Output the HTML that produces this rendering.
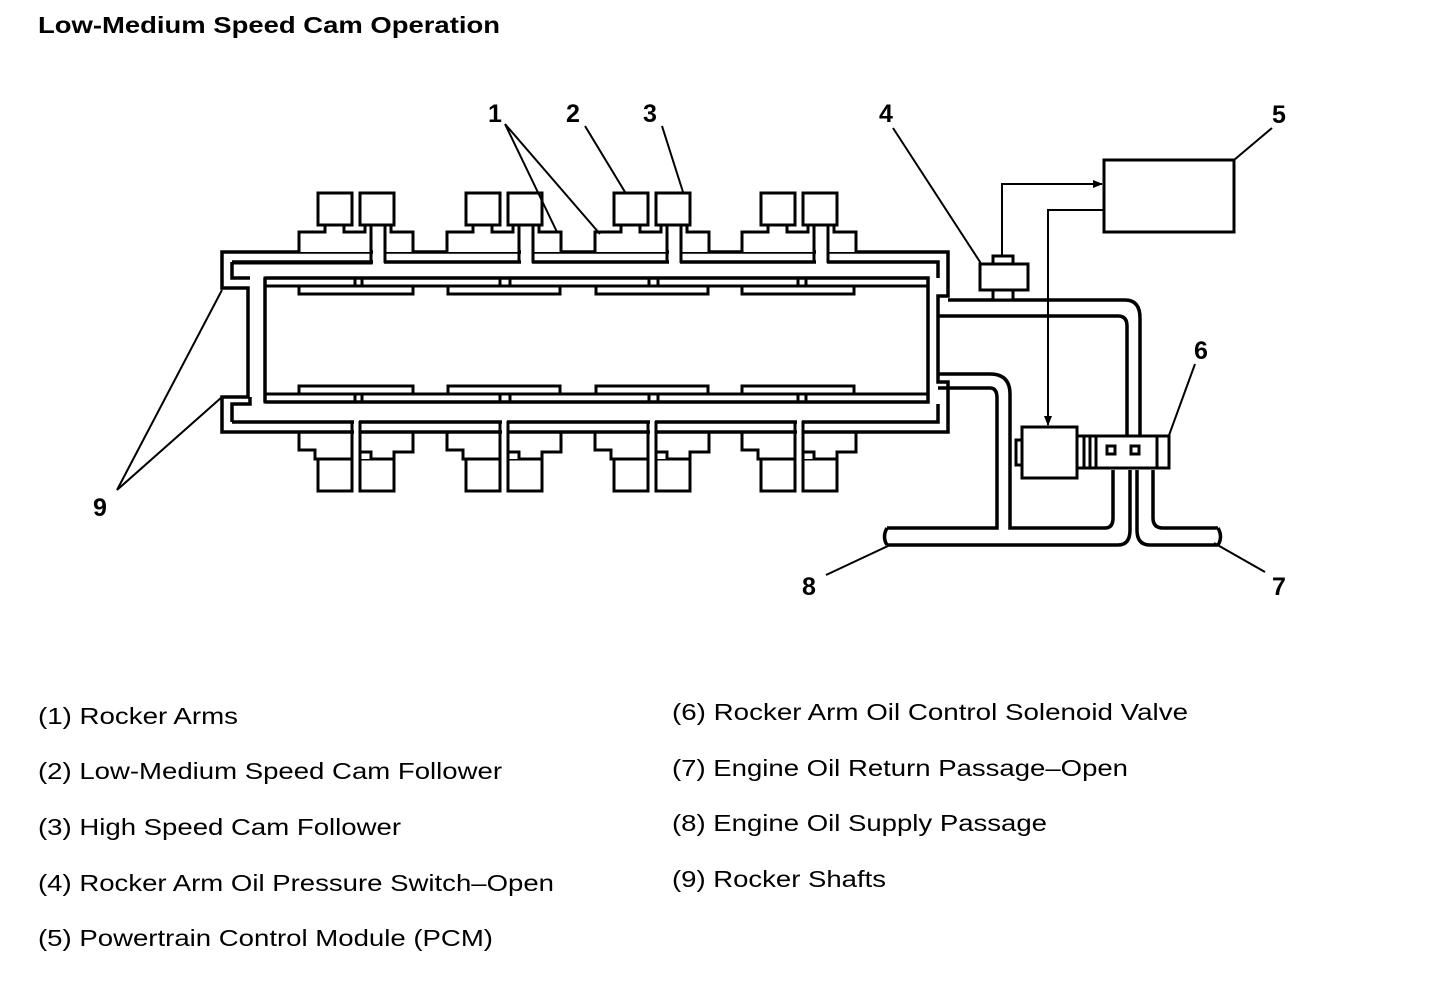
<!DOCTYPE html>
<html><head><meta charset="utf-8"><style>
html,body{margin:0;padding:0;background:#fff;}
svg{display:block;}
text{font-family:"Liberation Sans",Arial,sans-serif;fill:#000;}
</style></head><body>
<svg width="1440" height="988" viewBox="0 0 1440 988" xmlns="http://www.w3.org/2000/svg">
<defs>
<marker id="ah" markerWidth="10" markerHeight="10" refX="9" refY="5" orient="auto" markerUnits="userSpaceOnUse"><path d="M0,1 L10,5 L0,9 Z" fill="#000"/></marker>
<g id="topArm" fill="#fff" stroke="#000" stroke-width="3">
  <rect x="19" y="-59" width="34" height="32"/>
  <rect x="61" y="-59" width="34" height="32"/>
  <path d="M0,0 V-20 H26 V-27 H45 V-20 H66 V-27 H72 V0"/>
  <path d="M86,0 V-27 H92 V-20 H114 V0"/>
</g>
<g id="botArm" fill="#fff" stroke="#000" stroke-width="3">
  <rect x="19" y="27" width="34" height="32"/>
  <rect x="61" y="27" width="34" height="32"/>
  <path d="M0,0 V18 H16 V27 H19"/>
  <path d="M61,27 V20 H72 V27"/>
  <path d="M95,27 V20 H114 V0"/>
</g>
</defs>

<text x="38" y="33" font-size="23" font-weight="bold" textLength="462" lengthAdjust="spacingAndGlyphs">Low-Medium Speed Cam Operation</text>

<g fill="none" stroke="#000" stroke-width="3.5">
  <path d="M222,252 H948 V296 H938 V382 H948 V432 H222 V397 H248 V288 H222 Z"/>
  <path d="M232,262 H938 V278 M232,262 V278 H250 M265,278 V402 M232,422 V404 H250 V397 M232,422 H938 V404"/>
  <path d="M265,278 H928 V402 H265"/>
</g>
<g fill="none" stroke="#000" stroke-width="3">
  <rect x="265" y="278" width="90" height="8"/>
  <rect x="362" y="278" width="138" height="8"/>
  <rect x="510" y="278" width="139" height="8"/>
  <rect x="658" y="278" width="140" height="8"/>
  <rect x="806" y="278" width="122" height="8"/>
  <rect x="299" y="286" width="114" height="8"/>
  <rect x="448" y="286" width="112" height="8"/>
  <rect x="596" y="286" width="112" height="8"/>
  <rect x="742" y="286" width="112" height="8"/>
  <rect x="265" y="394" width="90" height="8"/>
  <rect x="362" y="394" width="138" height="8"/>
  <rect x="510" y="394" width="139" height="8"/>
  <rect x="658" y="394" width="140" height="8"/>
  <rect x="806" y="394" width="122" height="8"/>
  <rect x="299" y="386" width="114" height="8"/>
  <rect x="448" y="386" width="112" height="8"/>
  <rect x="596" y="386" width="112" height="8"/>
  <rect x="742" y="386" width="112" height="8"/>
</g>
<!-- openings in the bands -->
<g fill="#fff">
  <rect x="373" y="248" width="11" height="17"/>
  <rect x="521" y="248" width="11" height="17"/>
  <rect x="669" y="248" width="11" height="17"/>
  <rect x="816" y="248" width="11" height="17"/>
  <rect x="354" y="419" width="5" height="16"/>
  <rect x="502" y="419" width="5" height="16"/>
  <rect x="650" y="419" width="5" height="16"/>
  <rect x="797" y="419" width="5" height="16"/>
</g>
<use href="#topArm" x="299" y="252"/>
<use href="#topArm" x="447" y="252"/>
<use href="#topArm" x="595" y="252"/>
<use href="#topArm" x="742" y="252"/>
<use href="#botArm" x="299" y="432"/>
<use href="#botArm" x="447" y="432"/>
<use href="#botArm" x="595" y="432"/>
<use href="#botArm" x="742" y="432"/>
<g stroke="#000" stroke-width="3" fill="none">
  <path d="M371,252 V263 H232 M385,252 V263 M519,252 V263 M533,252 V263 M667,252 V263 M681,252 V263 M814,252 V263 M828,252 V263"/>
  <path d="M352,421 V459 M360,421 V459 M500,421 V459 M508,421 V459 M648,421 V459 M656,421 V459 M795,421 V459 M803,421 V459"/>
</g>

<!-- right side pipes -->
<g fill="none" stroke="#000" stroke-width="3.5">
  <path d="M948,300 H1125 Q1140,300 1140,318 V438"/>
  <path d="M938,316 H1118 Q1127,316 1127,326 V438"/>
  <path d="M938,374 H990 Q1010,374 1010,394 V528 H1105 Q1113,528 1113,518 V470"/>
  <path d="M938,388 H990 Q997,388 997,398 V528 H887"/>
  <path d="M887,545 H1118 Q1130,545 1130,530 V470"/>
  <path d="M1137,470 V530 Q1137,545 1150,545 H1218"/>
  <path d="M1153,470 V518 Q1153,528 1163,528 H1218"/>
  <path d="M887,528 Q882,537 887,545 M1218,528 Q1223,537 1218,545"/>
</g>
<g fill="#fff" stroke="#000" stroke-width="3">
  <rect x="993" y="256" width="20" height="8"/>
  <rect x="980" y="264" width="48" height="26"/>
  <rect x="993" y="290" width="20" height="10"/>
</g>
<rect x="1104" y="160" width="130" height="72" fill="#fff" stroke="#000" stroke-width="3"/>
<g fill="none" stroke="#000" stroke-width="2">
  <path d="M1002,256 V184 H1102" marker-end="url(#ah)"/>
  <path d="M1104,210 H1048 V425" marker-end="url(#ah)"/>
</g>
<g fill="#fff" stroke="#000" stroke-width="3">
  <rect x="1016" y="440" width="6" height="25"/>
  <rect x="1022" y="427" width="55" height="51"/>
  <rect x="1077" y="436" width="82" height="32"/>
  <rect x="1157" y="436" width="12" height="32"/>
  <path d="M1084,436 V468 M1090,436 V468 M1096,436 V468" />
  <rect x="1107" y="446" width="8" height="8"/>
  <rect x="1131" y="446" width="8" height="8"/>
</g>

<g stroke="#000" stroke-width="2" fill="none">
  <path d="M505,124 L557,232 M505,124 L600,234"/>
  <path d="M585,126 L625,192"/>
  <path d="M662,126 L683,192"/>
  <path d="M893,128 L982,265"/>
  <path d="M1272,128 L1234,160"/>
  <path d="M1195,364 L1168,438"/>
  <path d="M1265,572 L1214,543"/>
  <path d="M826,575 L890,545"/>
  <path d="M117,490 L222,290 M117,490 L222,397"/>
</g>
<g font-size="25" font-weight="bold">
  <text x="488" y="122">1</text>
  <text x="566" y="122">2</text>
  <text x="643" y="122">3</text>
  <text x="879" y="122">4</text>
  <text x="1272" y="123">5</text>
  <text x="1194" y="359">6</text>
  <text x="1272" y="595">7</text>
  <text x="802" y="595">8</text>
  <text x="93" y="516">9</text>
</g>

<g font-size="23">
  <text x="38" y="724" textLength="200" lengthAdjust="spacingAndGlyphs">(1) Rocker Arms</text>
  <text x="38" y="779" textLength="464" lengthAdjust="spacingAndGlyphs">(2) Low-Medium Speed Cam Follower</text>
  <text x="38" y="835" textLength="363" lengthAdjust="spacingAndGlyphs">(3) High Speed Cam Follower</text>
  <text x="38" y="891" textLength="516" lengthAdjust="spacingAndGlyphs">(4) Rocker Arm Oil Pressure Switch–Open</text>
  <text x="38" y="946" textLength="455" lengthAdjust="spacingAndGlyphs">(5) Powertrain Control Module (PCM)</text>
  <text x="672" y="720" textLength="516" lengthAdjust="spacingAndGlyphs">(6) Rocker Arm Oil Control Solenoid Valve</text>
  <text x="672" y="776" textLength="456" lengthAdjust="spacingAndGlyphs">(7) Engine Oil Return Passage–Open</text>
  <text x="672" y="831" textLength="375" lengthAdjust="spacingAndGlyphs">(8) Engine Oil Supply Passage</text>
  <text x="672" y="887" textLength="214" lengthAdjust="spacingAndGlyphs">(9) Rocker Shafts</text>
</g>
</svg>
</body></html>
